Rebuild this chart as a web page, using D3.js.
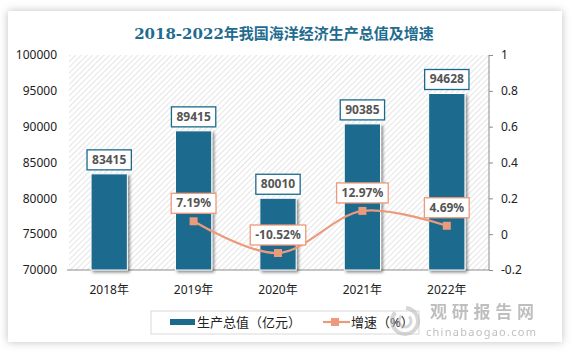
<!DOCTYPE html>
<html>
<head>
<meta charset="utf-8">
<script src="https://cdn.jsdelivr.net/npm/d3@7"></script>
<style>
  body { margin: 0; background: #ffffff; }
  svg { display: block; }
</style>
</head>
<body>
<div class="chart"></div>
<script>
var years = ["2018年", "2019年", "2020年", "2021年", "2022年"];
var output = [83415, 89415, 80010, 90385, 94628];
var growth = [null, 0.0719, -0.1052, 0.1297, 0.0469];
var growthLabels = ["", "7.19%", "-10.52%", "12.97%", "4.69%"];
var leftTicks = [70000, 75000, 80000, 85000, 90000, 95000, 100000];
var rightTicks = [-0.2, 0, 0.2, 0.4, 0.6, 0.8, 1];

var width = 575, height = 352;
var barColor = "#1b6a8d", lineColor = "#eb9a7b";
var font = "'Noto Sans', 'Noto Sans CJK SC', sans-serif";

var svg = d3.select(".chart").append("svg")
  .attr("width", width)
  .attr("height", height);

var defs = svg.append("defs");
var card = defs.append("filter").attr("id", "cardShadow")
  .attr("x", "-5%").attr("y", "-5%").attr("width", "110%").attr("height", "110%");
card.append("feDropShadow").attr("dx", 0).attr("dy", 0)
  .attr("stdDeviation", 4).attr("flood-color", "#000").attr("flood-opacity", 0.25);

var barShadow = defs.append("filter").attr("id", "barShadow")
  .attr("x", "-20%").attr("y", "-10%").attr("width", "150%").attr("height", "130%");
barShadow.append("feDropShadow").attr("dx", 2).attr("dy", 2)
  .attr("stdDeviation", 1.5).attr("flood-color", "#000").attr("flood-opacity", 0.45);

var hatch = defs.append("pattern").attr("id", "hatch")
  .attr("patternUnits", "userSpaceOnUse")
  .attr("width", 4).attr("height", 4)
  .attr("patternTransform", "rotate(45)");
hatch.append("rect").attr("width", 4).attr("height", 4).attr("fill", "#fff");
hatch.append("line").attr("x1", 0).attr("y1", 0).attr("x2", 0).attr("y2", 4)
  .attr("stroke", "#d4d4d4").attr("stroke-width", 1.2);

// card
svg.append("rect")
  .attr("x", 8).attr("y", 11)
  .attr("width", 554).attr("height", 331)
  .attr("fill", "#fff")
  .attr("filter", "url(#cardShadow)");

svg.append("text")
  .attr("x", 284).attr("y", 39)
  .attr("text-anchor", "middle")
  .style("font-family", "'DejaVu Serif', 'Noto Sans CJK SC', serif")
  .style("font-weight", "bold")
  .style("font-size", "15px")
  .attr("fill", "#1f6c8f")
  .text("2018-2022年我国海洋经济生产总值及增速");

var plot = { left: 67, right: 489, top: 55, bottom: 270 };

var x = d3.scaleBand().domain(years)
  .range([plot.left, plot.right])
  .paddingInner(0.57).paddingOuter(0.285);

var yLeft = d3.scaleLinear().domain([70000, 100000]).range([plot.bottom, plot.top]);
var yRight = d3.scaleLinear().domain([-0.2, 1]).range([plot.bottom, plot.top]);

svg.append("rect")
  .attr("x", plot.left + 2).attr("y", plot.top)
  .attr("width", plot.right - plot.left - 2).attr("height", plot.bottom - plot.top)
  .attr("fill", "url(#hatch)");

// left axis labels
svg.append("g").selectAll("text")
  .data(leftTicks).enter().append("text")
  .attr("x", 57)
  .attr("y", function (d) { return yLeft(d); })
  .attr("dy", "0.35em")
  .attr("text-anchor", "end")
  .style("font-family", font).style("font-size", "12px")
  .attr("fill", "#222")
  .text(function (d) { return d; });

// right axis
var rAxis = svg.append("g")
  .attr("transform", "translate(" + plot.right + ",0)")
  .call(d3.axisRight(yRight).tickValues(rightTicks).tickSize(4).tickPadding(8)
    .tickFormat(function (d) { return String(Math.round(d * 10) / 10); }));
rAxis.select(".domain").attr("stroke", "#8c8c8c").attr("d", "M0," + plot.top + "V" + plot.bottom);
rAxis.selectAll(".tick line").attr("stroke", "#8c8c8c");
rAxis.selectAll(".tick text")
  .style("font-family", font).style("font-size", "12px").attr("fill", "#222");

// bottom line
svg.append("line")
  .attr("x1", plot.left).attr("x2", plot.right)
  .attr("y1", plot.bottom).attr("y2", plot.bottom)
  .attr("stroke", "#8c8c8c").attr("stroke-width", 1);

// x labels
svg.append("g").selectAll("text")
  .data(years).enter().append("text")
  .attr("x", function (d) { return x(d) + x.bandwidth() / 2; })
  .attr("y", 294)
  .attr("text-anchor", "middle")
  .style("font-family", font).style("font-size", "12px")
  .attr("fill", "#222")
  .text(function (d) { return d; });

// bars
svg.append("g").selectAll("rect")
  .data(output).enter().append("rect")
  .attr("x", function (d, i) { return x(years[i]); })
  .attr("y", function (d) { return yLeft(d); })
  .attr("width", x.bandwidth())
  .attr("height", function (d) { return plot.bottom - yLeft(d); })
  .attr("fill", barColor)
  .attr("stroke", "#fff").attr("stroke-width", 1)
  .attr("filter", "url(#barShadow)");

function labelBox(g, cx, bottomY, txt, stroke) {
  var t = g.append("text")
    .attr("x", cx).attr("y", bottomY - 6)
    .attr("text-anchor", "middle")
    .style("font-family", font).style("font-size", "12px").style("font-weight", "bold")
    .attr("fill", "#555")
    .text(txt);
  var w = t.node().getComputedTextLength() + 10;
  g.insert("rect", "text")
    .attr("x", cx - w / 2).attr("y", bottomY - 20)
    .attr("width", w).attr("height", 20)
    .attr("fill", "#fff").attr("stroke", stroke).attr("stroke-width", 1.3);
}

var barLabels = svg.append("g");
output.forEach(function (d, i) {
  var g = barLabels.append("g");
  labelBox(g, x(years[i]) + x.bandwidth() / 2, yLeft(d) - 4, String(d), barColor);
});

// growth line
var pts = growth.map(function (d, i) { return { v: d, i: i }; })
  .filter(function (d) { return d.v !== null; });

var line = d3.line()
  .x(function (d) { return x(years[d.i]) + x.bandwidth() / 2; })
  .y(function (d) { return yRight(d.v); })
  .curve(d3.curveCatmullRom.alpha(0.5));

svg.append("path")
  .datum(pts)
  .attr("d", line)
  .attr("fill", "none")
  .attr("stroke", lineColor)
  .attr("stroke-width", 2.2);

svg.append("g").selectAll("rect")
  .data(pts).enter().append("rect")
  .attr("x", function (d) { return x(years[d.i]) + x.bandwidth() / 2 - 4; })
  .attr("y", function (d) { return yRight(d.v) - 4; })
  .attr("width", 8).attr("height", 8)
  .attr("fill", lineColor);

var lineLabels = svg.append("g");
pts.forEach(function (d) {
  var g = lineLabels.append("g");
  labelBox(g, x(years[d.i]) + x.bandwidth() / 2, yRight(d.v) - 8, growthLabels[d.i], lineColor);
});

// legend
var legend = svg.append("g");
legend.append("rect")
  .attr("x", 151).attr("y", 311).attr("width", 268).attr("height", 23)
  .attr("fill", "#fff").attr("stroke", "#d9d9d9");
legend.append("rect")
  .attr("x", 170).attr("y", 319).attr("width", 25).attr("height", 6)
  .attr("fill", barColor);
legend.append("text")
  .attr("x", 197).attr("y", 327)
  .style("font-family", font).style("font-size", "13px").attr("fill", "#222")
  .text("生产总值（亿元）");
legend.append("line")
  .attr("x1", 323).attr("x2", 350).attr("y1", 322).attr("y2", 322)
  .attr("stroke", lineColor).attr("stroke-width", 2.2);
legend.append("rect")
  .attr("x", 331).attr("y", 318).attr("width", 8).attr("height", 8)
  .attr("fill", lineColor);
legend.append("text")
  .attr("x", 351).attr("y", 327)
  .style("font-family", font).style("font-size", "13px").attr("fill", "#222")
  .text("增速（%）");

// watermark
var wm = svg.append("g").attr("opacity", 0.55);
wm.append("circle").attr("cx", 405).attr("cy", 321).attr("r", 13)
  .attr("fill", "none").attr("stroke", "#b5b5b5").attr("stroke-width", 4)
  .attr("stroke-dasharray", "50 12");
wm.append("circle").attr("cx", 405).attr("cy", 321).attr("r", 6)
  .attr("fill", "none").attr("stroke", "#b5b5b5").attr("stroke-width", 3)
  .attr("stroke-dasharray", "24 8");
wm.append("text")
  .attr("x", 430).attr("y", 318)
  .style("font-family", "'Noto Sans CJK SC', sans-serif").style("font-size", "17px")
  .style("font-weight", "bold").attr("fill", "#8a8a8a")
  .attr("textLength", 104)
  .text("观研报告网");
wm.append("text")
  .attr("x", 426).attr("y", 336)
  .style("font-family", font).style("font-size", "11px").attr("fill", "#8a8a8a")
  .attr("textLength", 110)
  .text("chinabaogao.com");
</script>
</body>
</html>
